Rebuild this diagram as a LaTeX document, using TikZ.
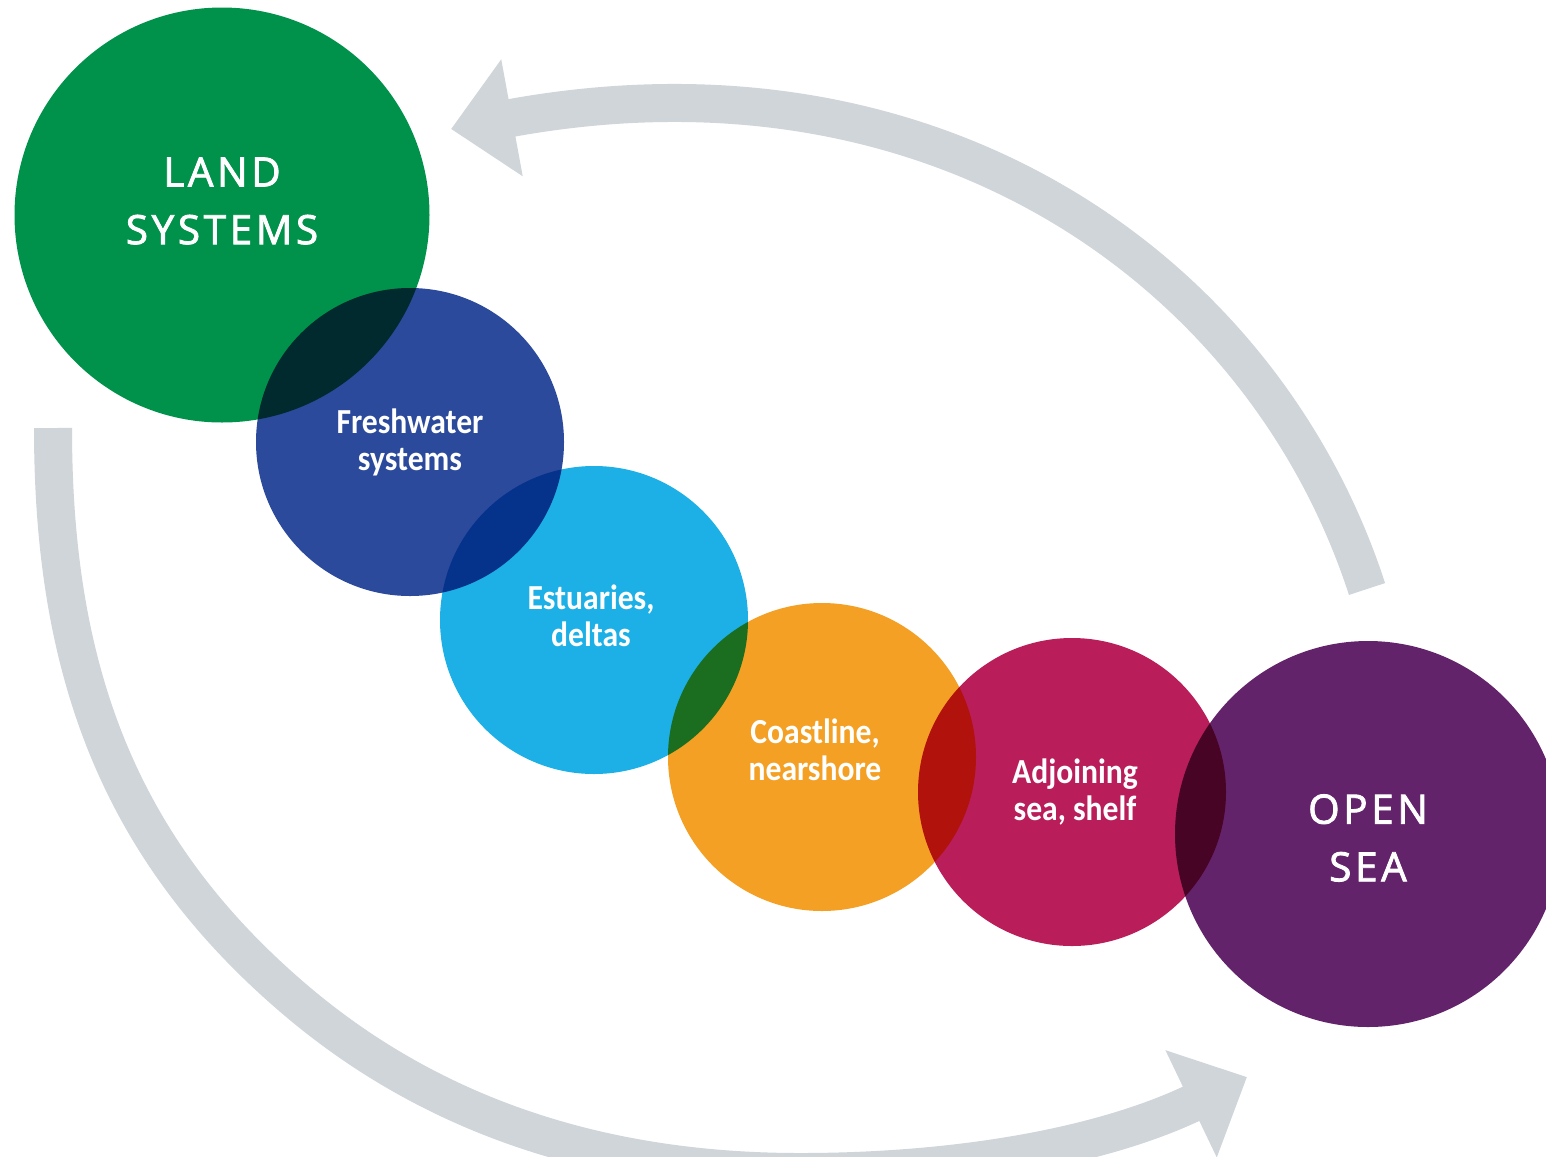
\documentclass[tikz,border=0pt]{standalone}
\usepackage{fontspec}
\setmainfont{Carlito}
\newfontfamily\capsfont{Open Sans}[LetterSpace=9,FakeBold=2]
\newfontfamily\narrowfont{Carlito}[FakeStretch=0.9]
\usepackage{tikz}
\usetikzlibrary{arrows.meta}

\definecolor{landgreen}{RGB}{0,146,74}
\definecolor{freshblue}{RGB}{44,74,156}
\definecolor{estuaryblue}{RGB}{29,176,230}
\definecolor{coastorange}{RGB}{244,160,36}
\definecolor{shelfred}{RGB}{185,30,91}
\definecolor{seapurple}{RGB}{99,35,106}
\definecolor{arrowgray}{RGB}{208,213,218}

\begin{document}
\begin{tikzpicture}[x=0.1mm,y=-0.1mm]

	\tikzstyle disc=[circle, draw=none, inner sep=0pt];
	\tikzstyle flow lines=[line width=3.8mm, draw=arrowgray, -{Triangle[length=6.2mm,width=11.5mm]}];
	\tikzstyle big label=[text=white, align=center, font=\capsfont\fontsize{11.5}{16.4}\selectfont];
	\tikzstyle small label=[text=white, align=center, font=\narrowfont\bfseries\fontsize{10}{10.5}\selectfont];

	\useasboundingbox[fill=white] (0,0) rectangle (1546,1156);

	\begin{scope}[blend group=multiply]
		\foreach \name/\x/\y/\d/\col in {land/222/215/41.5/landgreen, fresh/410/442/30.8/freshblue,
				estuary/594/620/30.8/estuaryblue, coast/822/757/30.8/coastorange,
				shelf/1072/792/30.8/shelfred, opensea/1368/834/38.6/seapurple}
			\node[disc, minimum size=\d mm, fill=\col] (\name) at (\x,\y) {};
	\end{scope}

	\node[big label] (landlabel) at ([yshift=1.4mm]land.center) {LAND\\SYSTEMS};
	\node[small label] (freshlabel) at (fresh.center) {Freshwater\\systems};
	\node[small label] (estuarylabel) at ([xshift=-0.3mm,yshift=0.4mm]estuary.center) {Estuaries,\\deltas};
	\node[small label] (coastlabel) at ([xshift=-0.7mm,yshift=0.7mm]coast.center) {Coastline,\\nearshore};
	\node[small label] (shelflabel) at ([xshift=0.3mm]shelf.center) {Adjoining\\sea, shelf};
	\node[big label] (sealabel) at ([yshift=-0.4mm]opensea.center) {OPEN\\SEA};

	\coordinate (seaout) at (1367,589);
	\coordinate (landin) at (451,129);
	\coordinate (landout) at (53,428);
	\coordinate (bend) at (292,997);
	\coordinate (lowest) at (800,1172);
	\coordinate (seain) at (1247,1077);

	\draw[flow lines] (seaout) .. controls +(-102,-314) and +(490,-90) .. (landin);
	\draw[flow lines] (landout) .. controls +(0,235) and +(-178,-153) .. (bend)
		.. controls +(144,124) and +(-190,0) .. (lowest)
		.. controls +(160,0) and +(-144,69) .. (seain);

\end{tikzpicture}
\end{document}
